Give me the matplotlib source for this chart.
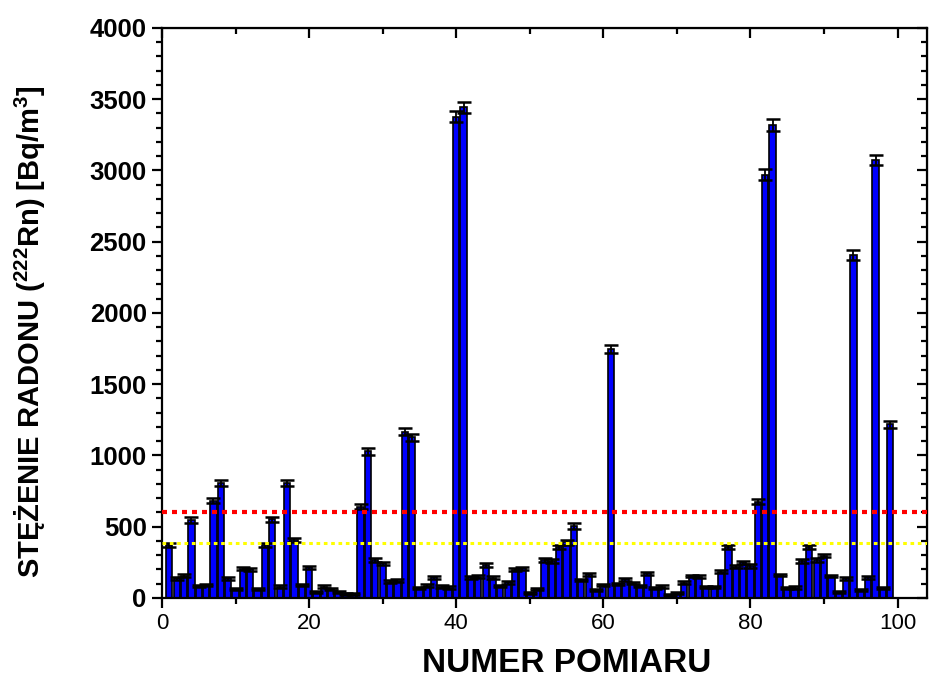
import matplotlib
matplotlib.use("Agg")
import matplotlib.pyplot as plt
import numpy as np

plt.rcParams['font.family'] = ['Liberation Sans', 'DejaVu Sans']
plt.rcParams['mathtext.fontset'] = 'custom'
plt.rcParams['mathtext.rm'] = 'Liberation Sans:bold'
plt.rcParams['mathtext.default'] = 'rm'

pomiar = np.arange(1, 100)
stezenie = [370, 138, 157, 547, 84, 91, 683, 809, 138, 61,
            206, 201, 61, 372, 552, 80, 809, 405, 91, 215,
            44, 80, 61, 42, 26, 26, 640, 1030, 267, 243,
            115, 122, 1167, 1127, 68, 87, 145, 80, 73, 3378,
            3443, 145, 150, 232, 143, 84, 110, 197, 208, 33,
            61, 267, 260, 356, 390, 505, 126, 166, 56, 91,
            1747, 98, 131, 103, 84, 173, 68, 80, 21, 33,
            108, 154, 150, 75, 75, 185, 360, 220, 250, 225,
            676, 2970, 3320, 161, 68, 73, 260, 356, 267, 297,
            154, 44, 138, 2407, 56, 145, 3074, 68, 1219]
niepewnosc = [15, 10, 10, 18, 8, 8, 20, 20, 10, 8,
              10, 10, 8, 15, 18, 8, 20, 15, 8, 10,
              8, 8, 8, 8, 6, 6, 18, 25, 12, 12,
              10, 10, 25, 25, 8, 8, 10, 8, 8, 40,
              40, 10, 10, 12, 10, 8, 10, 10, 10, 8,
              8, 12, 12, 15, 15, 18, 10, 10, 8, 8,
              30, 8, 10, 8, 8, 10, 8, 8, 6, 8,
              10, 10, 10, 8, 8, 10, 15, 12, 12, 12,
              20, 38, 40, 10, 8, 8, 12, 15, 12, 12,
              10, 8, 10, 35, 8, 10, 38, 8, 25]

# reference levels
poziom_czerwony = 605
poziom_zolty = 385

fig = plt.figure(figsize=(9.38, 6.82), dpi=100)
ax = fig.add_axes([0.1727, 0.1232, 0.8156, 0.8358])

ax.bar(pomiar, stezenie, width=0.85, color='#0000ff', edgecolor='black',
       linewidth=1.2, zorder=2)
ax.errorbar(pomiar, stezenie, yerr=niepewnosc, fmt='none', ecolor='black',
            elinewidth=1.3, capsize=5, capthick=1.8, zorder=3)

ax.axhline(poziom_czerwony, color='#ff0000', linestyle=(0, (1.2, 1.2)),
           linewidth=3, zorder=4)
ax.axhline(poziom_zolty, color='#ffff00', linestyle=(0, (1.2, 1.2)),
           linewidth=2.2, zorder=4)

ax.set_xlim(0, 104)
ax.set_ylim(0, 4000)
ax.set_xticks([0, 20, 40, 60, 80, 100])
ax.set_xticks([10, 30, 50, 70, 90], minor=True)
ax.set_yticks(np.arange(0, 4001, 500))
ax.set_yticks(np.arange(0, 4001, 100), minor=True)

for s in ax.spines.values():
    s.set_linewidth(1.6)

ax.tick_params(axis='both', which='major', direction='out', length=7,
               width=1.6, pad=4)
ax.tick_params(axis='both', which='minor', direction='out', length=4,
               width=1.6)
ax.tick_params(axis='x', labelsize=16)
ax.tick_params(axis='y', labelsize=18.5)
for lab in ax.get_yticklabels():
    lab.set_fontweight('bold')

# mirrored ticks on top and right, pointing in
top = ax.secondary_xaxis('top')
top.set_xticks([0, 20, 40, 60, 80, 100])
top.set_xticks([10, 30, 50, 70, 90], minor=True)
top.tick_params(which='major', direction='in', length=7, width=1.6, labeltop=False)
top.tick_params(which='minor', direction='in', length=4, width=1.6)
right = ax.secondary_yaxis('right')
right.set_yticks(np.arange(0, 4001, 500))
right.set_yticks(np.arange(0, 4001, 100), minor=True)
right.tick_params(which='major', direction='in', length=7, width=1.6, labelright=False)
right.tick_params(which='minor', direction='in', length=4, width=1.6)

ax.set_xlabel('NUMER POMIARU', fontsize=24, fontweight='bold')
ax.set_ylabel(r'STĘŻENIE RADONU ($^{222}$Rn) [Bq/m$^{3}$]', fontsize=21,
              fontweight='bold')
ax.xaxis.set_label_coords(0.529, -0.088)
ax.yaxis.set_label_coords(-0.149, 0.468)

fig.savefig('out.png', dpi=100)
